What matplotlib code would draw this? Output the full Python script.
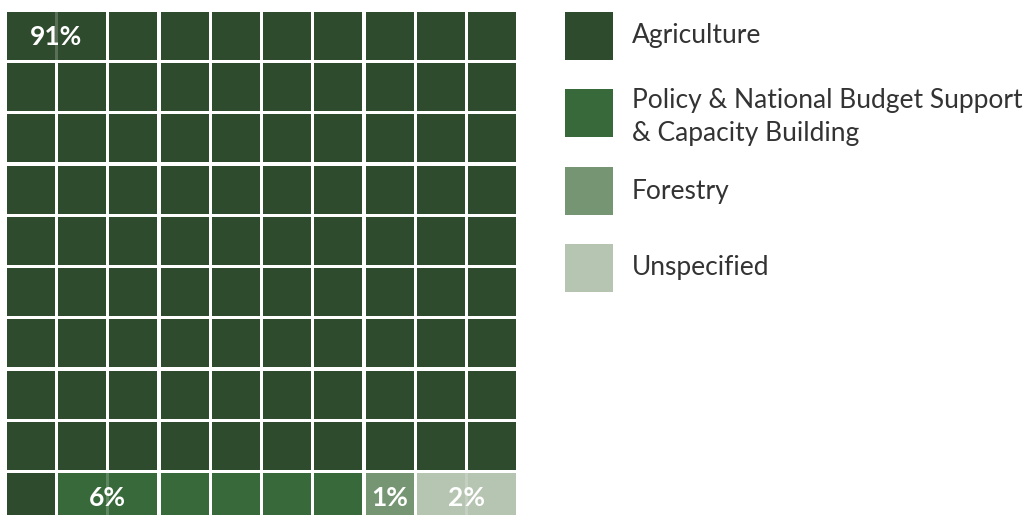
import matplotlib.pyplot as plt
from matplotlib.patches import Rectangle

plt.rcParams['font.family'] = ['Lato', 'DejaVu Sans']

# data
categories = ["Agriculture", "Policy & National Budget Support\n& Capacity Building", "Forestry", "Unspecified"]
shares = [91, 6, 1, 2]
colors = ["#2f4b2e", "#38693a", "#769572", "#b6c4b2"]
labels = ["91%", "6%", "1%", "2%"]

W, H = 1027, 515
fig = plt.figure(figsize=(W / 100, H / 100), dpi=100)
ax = fig.add_axes([0, 0, 1, 1])
ax.set_xlim(0, W)
ax.set_ylim(H, 0)
ax.axis("off")

# waffle layout (pixels)
x0, y0 = 6.7, 11.7
pitch, size = 51.3, 48.0

# cell index -> category, filled row by row from top-left
cells = []
for i, n in enumerate(shares):
    cells += [i] * n

for k, cat in enumerate(cells):
    r, c = divmod(k, 10)
    ax.add_patch(Rectangle((x0 + c * pitch, y0 + r * pitch), size, size,
                           facecolor=colors[cat], edgecolor="none"))

# label positions: (first cell, number of cells spanned) for each category
label_cells = [(0, 2), (91, 2), (97, 1), (98, 2)]
for i, (start, span) in enumerate(label_cells):
    r, c = divmod(start, 10)
    left = x0 + c * pitch
    width = span * pitch - (pitch - size)
    if span > 1:
        # translucent band over the gap, like the original
        ax.add_patch(Rectangle((left, y0 + r * pitch), width, size,
                               facecolor=colors[cells[start + 1]], edgecolor="none", alpha=0.8))
    ax.text(left + width / 2, y0 + r * pitch + size / 2 + 1, labels[i], color="white",
            fontsize=19, fontweight="bold", ha="center", va="center")

# legend
lx, lsize = 565, 48
legend_y = [12, 89, 167, 244]
for i, cat in enumerate(categories):
    ax.add_patch(Rectangle((lx, legend_y[i]), lsize, lsize, facecolor=colors[i], edgecolor="none"))
    if "\n" in cat:
        ax.text(632, legend_y[i] - 1, cat, fontsize=19, color="#333333",
                ha="left", va="top", linespacing=1.42)
    else:
        ax.text(632, legend_y[i] + lsize / 2, cat, fontsize=19, color="#333333",
                ha="left", va="center")

fig.savefig("out.png", dpi=100)
